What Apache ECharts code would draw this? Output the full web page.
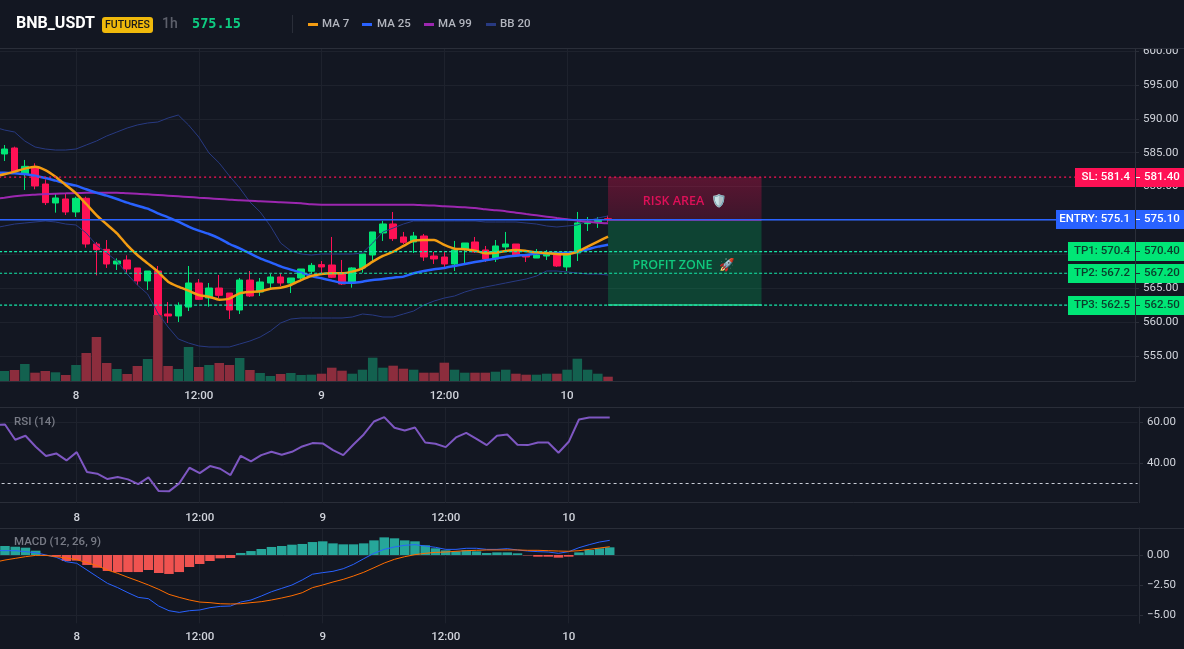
<!DOCTYPE html>
<html>
<head>
<meta charset="utf-8">
<title>BNB_USDT 1h</title>
<script src="https://cdn.jsdelivr.net/npm/echarts@6/dist/echarts.min.js"></script>
<style>
  html, body { margin: 0; padding: 0; background: #131722; }
  #chart { width: 1184px; height: 649px; }
</style>
</head>
<body>
<div id="chart"></div>
<script>
// Hourly candles, oldest first
const opens = [584.82,585.70,581.91,582.94,580.38,577.58,578.17,576.25,578.27,571.52,570.73,568.57,569.16,567.98,566.06,567.53,561.18,560.89,562.21,565.76,563.54,565.02,564.28,561.77,566.20,564.43,565.76,566.65,565.76,566.50,567.49,568.47,568.42,567.09,565.76,567.98,569.90,573.15,574.48,572.56,571.82,572.70,569.75,569.60,568.57,570.78,571.82,570.64,569.31,571.08,571.52,569.90,569.45,569.75,569.90,568.13,570.19,574.53,574.82,575.25];
const closes = [585.55,582.25,582.99,580.09,577.63,578.32,576.25,578.27,571.52,570.68,568.57,569.01,567.83,566.06,567.53,560.98,560.89,562.41,565.76,563.35,565.02,563.94,561.77,566.20,563.84,565.91,566.65,565.76,566.50,567.83,568.37,568.13,566.60,565.61,567.98,570.05,573.30,574.48,572.31,571.77,572.70,569.60,569.31,568.57,570.64,571.67,570.34,569.31,571.23,571.52,569.75,569.60,569.90,570.05,568.27,569.90,574.63,574.82,575.02,575.15];
const lows = [583.78,582.16,579.50,579.60,577.28,576.15,575.80,575.51,570.98,566.89,567.98,567.68,567.09,565.42,564.73,560.05,559.85,560.00,561.62,563.25,562.26,563.54,560.44,561.18,563.69,563.84,565.02,565.32,564.28,566.30,567.09,567.19,566.50,565.47,565.07,567.29,568.86,571.97,571.97,571.52,570.19,569.01,568.57,567.83,567.53,568.57,570.19,568.86,568.86,570.64,569.60,568.86,569.45,569.16,568.13,567.53,569.01,573.44,573.89,574.80];
const highs = [586.14,585.90,583.93,583.44,581.07,579.00,579.00,578.51,578.51,571.82,572.11,569.40,569.85,567.98,567.53,568.27,562.95,562.90,568.27,566.35,565.76,566.94,564.28,566.50,567.53,566.50,567.09,567.19,566.50,567.83,568.72,569.01,572.56,569.16,568.08,570.05,573.30,574.92,576.25,573.30,573.30,573.00,570.34,570.34,571.97,571.67,572.56,571.23,572.11,573.30,571.52,570.05,570.78,570.64,569.90,570.05,576.25,575.51,575.51,575.70];
const volumes = [10,11,17,8.3,10,8.7,6,16,28,44,18,12,7,15,22,66,15,12,34,14,16,18,16,23,11,8,5,7,8,6,6.3,7.3,13.3,10.3,7.3,11.3,23.3,13.3,15.3,12.3,11.3,8.3,8.3,18.3,11.3,8.3,8.3,8.3,9.3,11.3,7.3,6.3,6.3,7.3,7.3,11.3,22.3,11.3,7.3,4.3];

// Indicators carry one extra leading bar so their lines run in from the left edge
const ma7 = [581.47,581.81,582.21,582.65,582.94,582.45,581.47,580.24,579.00,577.43,575.80,574.43,573.10,571.37,569.90,568.66,567.43,565.96,565.22,564.63,563.99,563.74,563.30,563.45,564.23,564.43,564.53,564.92,565.07,565.47,566.20,566.80,567.09,567.19,567.19,567.44,567.93,568.91,569.75,570.39,571.23,572.02,572.11,572.11,571.38,570.83,570.74,570.54,570.14,570.24,570.49,570.64,570.49,570.29,570.14,570.05,570.00,570.39,571.13,571.87,572.61];
const ma25 = [582.06,582.06,581.96,581.86,581.61,581.27,580.88,580.48,580.14,579.60,579.10,578.66,578.17,577.63,577.18,576.74,576.05,575.46,574.82,574.08,573.49,573.00,572.36,571.52,570.88,570.14,569.40,568.81,568.22,567.73,567.29,566.80,566.45,566.11,565.81,565.81,565.96,566.21,566.35,566.55,566.70,567.19,567.53,567.78,567.98,568.27,568.57,568.86,569.11,569.36,569.65,569.80,569.90,570.10,570.19,570.19,570.24,570.39,570.74,571.13,571.42];
const ma99 = [578.20,578.36,578.56,578.71,578.81,578.91,578.96,579.00,579.05,579.10,579.10,579.10,579.10,579.00,578.96,578.86,578.76,578.66,578.56,578.46,578.36,578.27,578.17,578.07,577.97,577.92,577.82,577.77,577.67,577.63,577.53,577.38,577.33,577.33,577.33,577.33,577.33,577.33,577.33,577.33,577.33,577.33,577.23,577.19,577.09,577.04,576.94,576.84,576.64,576.50,576.35,576.15,575.95,575.76,575.56,575.36,575.17,574.97,574.82,574.67,574.58];
const bbUpper = [588.80,588.36,588.06,586.73,585.85,585.55,585.40,585.40,585.55,586.14,586.73,587.47,588.06,588.65,589.10,589.39,589.54,590.13,590.57,589.10,587.32,584.96,583.48,581.56,579.79,577.72,576.25,574.18,571.67,570.49,570.04,569.90,570.04,570.04,570.04,570.04,570.19,571.67,573.29,573.88,574.47,574.92,574.92,574.92,574.92,574.92,574.92,574.92,574.77,574.77,574.77,574.77,574.62,574.47,574.18,574.03,574.18,574.33,574.92,575.36,575.66];
const bbLower = [573.88,574.18,574.47,574.62,574.77,574.92,574.77,574.47,574.33,573.15,571.37,570.19,569.01,567.09,565.46,564.14,561.33,559.26,557.49,556.90,556.46,556.31,556.31,556.31,556.75,557.19,557.78,558.67,559.85,560.44,560.59,560.59,560.59,560.59,560.59,560.74,561.18,561.03,560.74,560.74,561.18,561.62,562.51,563.10,563.54,563.84,564.43,564.87,565.17,565.46,565.76,566.06,566.35,566.79,567.53,567.53,567.39,567.24,567.09,567.09,566.94];
const rsi = [58.50,58.81,51.30,53.26,47.86,43.29,44.60,41.16,45.25,35.45,34.63,32.01,32.99,31.85,29.56,32.83,26.13,25.97,29.89,37.57,34.96,38.39,37.08,33.97,43.45,40.67,43.78,45.41,43.94,45.41,48.03,49.66,49.50,46.23,43.78,49.01,53.91,60.28,62.41,57.18,55.87,57.34,49.99,49.33,47.70,52.44,54.73,51.79,48.68,53.26,53.91,48.84,48.68,49.99,49.99,44.92,50.31,61.26,62.24,62.24,62.24];
const macdLine = [0.38,0.36,0.36,0.28,0.19,0,-0.19,-0.56,-0.69,-1.25,-1.81,-2.36,-2.72,-3.14,-3.53,-3.64,-4.25,-4.64,-4.78,-4.64,-4.58,-4.39,-4.28,-4.25,-3.92,-3.75,-3.42,-3.06,-2.78,-2.50,-2.08,-1.60,-1.47,-1.36,-1.14,-0.78,-0.31,0.14,0.47,0.67,0.81,0.86,0.75,0.64,0.47,0.47,0.56,0.56,0.47,0.47,0.53,0.42,0.33,0.28,0.25,0.14,0.28,0.61,0.86,1.08,1.22];
const signalLine = [-0.60,-0.42,-0.28,-0.14,-0.03,-0.03,-0.14,-0.25,-0.39,-0.64,-0.89,-1.25,-1.53,-1.86,-2.17,-2.50,-2.86,-3.28,-3.53,-3.75,-3.92,-3.97,-4.06,-4.08,-4.06,-3.97,-3.89,-3.75,-3.58,-3.39,-3.14,-2.72,-2.50,-2.25,-2.03,-1.75,-1.44,-1.06,-0.67,-0.36,-0.14,0.03,0.14,0.22,0.25,0.31,0.36,0.39,0.42,0.42,0.42,0.42,0.39,0.39,0.36,0.33,0.31,0.36,0.47,0.58,0.69];
const macdHist = [0.75,0.69,0.61,0.36,-0.05,-0.14,-0.50,-0.47,-0.83,-1.06,-1.33,-1.42,-1.42,-1.42,-1.25,-1.50,-1.58,-1.42,-1.00,-0.75,-0.50,-0.28,-0.25,0.17,0.33,0.50,0.67,0.75,0.86,0.92,1.08,1.14,0.97,0.89,0.89,0.97,1.22,1.47,1.39,1.22,1.14,0.81,0.56,0.39,0.31,0.39,0.31,0.17,0.22,0.22,0.14,-0.03,-0.14,-0.14,-0.22,-0.14,0.22,0.42,0.56,0.64];

// Axis labels
const priceTicks = [555,560,565,570,575,580,585,590,595,600];
const rsiTicks = [40,60];
const macdTicks = [-5,-2.5,0];
const timeTickBars = [8,20,32,44,56];
const timeTickNames = ['8','12:00','9','12:00','10'];

// Trade levels
const levelTitles = ['SL: 581.4','ENTRY: 575.1','TP1: 570.4','TP2: 567.2','TP3: 562.5'];
const levelPrices = [581.4,575.1,570.4,567.2,562.5];
const legendNames = ['MA 7','MA 25','MA 99','BB 20'];

const BG = '#131722', GRID = '#1e222d', BORDER = '#2a2e39', AXIS_TEXT = '#d1d4dc';
const UP = '#00e676', DOWN = '#ff1155', ENTRY = '#2962ff', TP_LINE = '#14e8a8';
const LEVEL_COLOR = [DOWN, ENTRY, UP, UP, UP];
const LEVEL_LINE = [DOWN, ENTRY, TP_LINE, TP_LINE, TP_LINE];
const LEVEL_DASH = [[2, 3], 'solid', [3, 2], [3, 2], [3, 2]];
const LEVEL_WIDTH = [1.2, 1.5, 1.2, 1.2, 1.2];
const LEVEL_TEXT = ['#ffffff', '#ffffff', '#0b3d2c', '#0b3d2c', '#0b3d2c'];
const TAG_WIDTH = [60, 79, 67, 67, 67];
const FONT = 'Roboto, "Noto Sans", sans-serif';
const BAND_COUNT = 112;
const ZONE_FROM = 60, ZONE_TO = 75;

const categories = Array.from({length: BAND_COUNT}, (_, i) => 'bar' + i);
const candleData = [['-','-','-','-']].concat(opens.map((o, i) => [o, closes[i], lows[i], highs[i]]));
const volumeData = ['-'].concat(volumes.map((v, i) => ({
  value: v,
  itemStyle: { color: closes[i] >= opens[i] ? '#13614f' : '#8c2d3d' }
})));
const histData = ['-'].concat(macdHist.map(v => ({
  value: v,
  itemStyle: { color: v >= 0 ? '#26a69a' : '#ef5350' }
})));

const chart = echarts.init(document.getElementById('chart'), null, { renderer: 'canvas' });

function timeAxis(gridIndex, showLabels, margin) {
  return {
    type: 'category', gridIndex, data: categories, boundaryGap: true,
    axisLine: { show: true, lineStyle: { color: BORDER } },
    axisTick: { show: false },
    splitLine: { show: false },
    axisLabel: {
      show: showLabels, color: AXIS_TEXT, fontFamily: FONT, fontSize: 11.5, fontWeight: 500, margin,
      interval: index => timeTickBars.includes(index),
      formatter: (value, index) => {
        const at = timeTickBars.indexOf(index);
        return at >= 0 ? timeTickNames[at] : '';
      }
    }
  };
}

function valueAxis(gridIndex, min, max, ticks, offset, digits) {
  return {
    type: 'value', gridIndex, position: 'right', min, max, offset, scale: true,
    axisLine: { show: true, onZero: false, lineStyle: { color: BORDER } },
    axisTick: { show: true, length: 4, customValues: ticks, lineStyle: { color: BORDER } },
    splitLine: { show: true, lineStyle: { color: GRID } },
    axisLabel: {
      color: AXIS_TEXT, fontFamily: FONT, fontSize: 11.5, margin: 8, customValues: ticks,
      padding: [2, 0, 0, 0],
      formatter: v => v.toFixed(digits).replace('-', '\u2212')
    }
  };
}

function timeGridLines() {
  return {
    silent: true, symbol: 'none', z: 1, animation: false,
    label: { show: false },
    lineStyle: { color: GRID, type: 'solid', width: 1 },
    data: timeTickBars.map(b => ({ xAxis: b }))
  };
}

function overlayLine(name, data, color, width, z, extra) {
  return Object.assign({
    name, type: 'line', xAxisIndex: 0, yAxisIndex: 0, data, z,
    showSymbol: false, symbol: 'none', animation: false, silent: true,
    lineStyle: { color, width }
  }, extra || {});
}

function zoneBorder(price, color) {
  return [
    { coord: [ZONE_FROM, price], lineStyle: { color, width: 1.5, type: 'solid', opacity: 1 } },
    { coord: [ZONE_TO, price] }
  ];
}

// Each trade level is a flat line across every bar, including the empty right-hand ones
function levelLine(i) {
  return overlayLine('Level ' + levelTitles[i], categories.map(() => levelPrices[i]), LEVEL_LINE[i], 1, 8, {
    lineStyle: { color: LEVEL_LINE[i], width: LEVEL_WIDTH[i], type: LEVEL_DASH[i] }
  });
}

function renderLevelTag(params, api) {
  const i = params.dataIndex;
  const y = api.coord([0, api.value(1)])[1];
  const right = params.coordSys.x + params.coordSys.width;
  const h = 19, top = Math.round(y - h / 2);
  const text = (value, x, align) => ({
    type: 'text',
    style: {
      text: value, x, y: top + h / 2, align, verticalAlign: 'middle',
      fill: LEVEL_TEXT[i], font: '500 11.5px ' + FONT
    }
  });
  return {
    type: 'group',
    children: [
      { type: 'rect', shape: { x: right - TAG_WIDTH[i], y: top, width: TAG_WIDTH[i], height: h }, style: { fill: LEVEL_COLOR[i] } },
      { type: 'rect', shape: { x: right + 1, y: top, width: 1184 - right - 1, height: h }, style: { fill: LEVEL_COLOR[i] } },
      { type: 'line', shape: { x1: right + 1, y1: top + h / 2, x2: right + 5, y2: top + h / 2 }, style: { stroke: LEVEL_TEXT[i], lineWidth: 1 } },
      text(levelTitles[i], right - 5, 'right'),
      text(api.value(1).toFixed(2), right + 9, 'left')
    ]
  };
}

const headerText = (text, x, fill, font) => ({
  type: 'text', z: 102, silent: true,
  style: { text, x, y: 24, fill, font, verticalAlign: 'middle' }
});
const legendColors = ['#f39c12', '#2962ff', '#9c27b0', '#283a82'];
const legendSwatchX = [308, 362, 424, 486];
const legendTextX = [322, 377, 438, 500];
const paneRule = y => ({
  type: 'line', z: 101, silent: true,
  shape: { x1: 0, y1: y + 0.5, x2: 1184, y2: y + 0.5 },
  style: { stroke: BORDER, lineWidth: 1 }
});

const option = {
  backgroundColor: BG,
  animation: false,
  textStyle: { fontFamily: FONT },
  grid: [
    { left: -11, top: 48, width: 1146, height: 333, outerBoundsMode: 'none' },
    { left: -11, top: 281, width: 1146, height: 100, outerBoundsMode: 'none' },
    { left: -10.4, top: 407, width: 1148, height: 95.7, outerBoundsMode: 'none' },
    { left: -10.4, top: 528, width: 1148, height: 95.3, outerBoundsMode: 'none' }
  ],
  xAxis: [
    timeAxis(0, true, 9),
    Object.assign(timeAxis(1, false, 9), { axisLine: { show: false } }),
    timeAxis(2, true, 9),
    timeAxis(3, true, 8)
  ],
  yAxis: [
    valueAxis(0, 551.285, 600.47, priceTicks, 0, 2),
    { type: 'value', gridIndex: 1, min: 0, max: 100, show: false },
    valueAxis(2, 20.4, 67.4, rsiTicks, 1.4, 2),
    valueAxis(3, -5.69, 2.25, macdTicks, 1.4, 2)
  ],
  series: [
    {
      name: 'Candles', type: 'candlestick', xAxisIndex: 0, yAxisIndex: 0, data: candleData,
      barWidth: 7, z: 3, silent: true, animation: false,
      itemStyle: { color: UP, color0: DOWN, borderColor: UP, borderColor0: DOWN, borderWidth: 1 },
      markLine: timeGridLines()
    },
    {
      name: 'Volume', type: 'bar', xAxisIndex: 1, yAxisIndex: 1, data: volumeData,
      barWidth: 9.5, z: 4, silent: true, animation: false
    },
    overlayLine('BB upper', bbUpper, legendColors[3], 1, 5),
    overlayLine('BB lower', bbLower, legendColors[3], 1, 5),
    overlayLine('MA 99', ma99, legendColors[2], 2, 6, { smooth: 0.2 }),
    overlayLine('MA 25', ma25, legendColors[1], 2.5, 6, { smooth: 0.2 }),
    overlayLine('MA 7', ma7, legendColors[0], 2.5, 7, { smooth: 0.2 })
  ].concat(levelPrices.map((p, i) => levelLine(i))).concat([
    {
      name: 'Zones', type: 'line', xAxisIndex: 0, yAxisIndex: 0, data: [], z: 8, silent: true, animation: false,
      markLine: {
        silent: true, symbol: 'none', z: 8, animation: false,
        label: { show: false },
        data: [
          zoneBorder(levelPrices[1], '#d81b60'),
          zoneBorder(levelPrices[4], '#2fcf8f')
        ]
      },
      markArea: {
        silent: true, z: 8, animation: false,
        data: [
          [
            {
              coord: [ZONE_FROM, levelPrices[0]],
              itemStyle: {
                color: new echarts.graphic.LinearGradient(0, 0, 0, 1, [
                  { offset: 0, color: 'rgba(255,17,85,0.30)' },
                  { offset: 1, color: 'rgba(255,17,85,0.18)' }
                ])
              },
              label: {
                show: true, position: 'inside', offset: [0, 3], formatter: 'RISK AREA  \u{1F6E1}\uFE0F',
                color: '#de1058', fontFamily: '"Open Sans", sans-serif', fontWeight: 600, fontSize: 12.5
              }
            },
            { coord: [ZONE_TO, levelPrices[1]] }
          ],
          [
            {
              coord: [ZONE_FROM, levelPrices[1]],
              itemStyle: { color: 'rgba(0,230,118,0.21)' },
              label: {
                show: true, position: 'inside', offset: [-1, 3], formatter: 'PROFIT ZONE  \u{1F680}',
                color: '#10c97d', fontFamily: '"Open Sans", sans-serif', fontWeight: 600, fontSize: 12.5
              }
            },
            { coord: [ZONE_TO, levelPrices[4]] }
          ]
        ]
      }
    },
    {
      name: 'Level tags', type: 'custom', xAxisIndex: 0, yAxisIndex: 0, z: 20, silent: true, animation: false,
      clip: false, renderItem: renderLevelTag, encode: { x: 0, y: 1 },
      data: levelPrices.map((p, i) => [i, p])
    },
    {
      name: 'RSI', type: 'line', xAxisIndex: 2, yAxisIndex: 2, data: rsi, z: 5,
      showSymbol: false, symbol: 'none', silent: true, animation: false,
      lineStyle: { color: '#7e57c2', width: 2 },
      markLine: {
        silent: true, symbol: 'none', z: 4, animation: false, label: { show: false },
        data: [
          { yAxis: 30, lineStyle: { color: '#c8ccd6', type: [3, 3], width: 1 } }
        ].concat(timeTickBars.map(b => ({ xAxis: b, lineStyle: { color: GRID, type: 'solid', width: 1 } })))
      }
    },
    {
      name: 'MACD histogram', type: 'bar', xAxisIndex: 3, yAxisIndex: 3, data: histData, barWidth: 9.5, z: 3,
      silent: true, animation: false, markLine: timeGridLines()
    },
    {
      name: 'MACD', type: 'line', xAxisIndex: 3, yAxisIndex: 3, data: macdLine, z: 5,
      showSymbol: false, symbol: 'none', silent: true, animation: false,
      lineStyle: { color: '#2962ff', width: 1 }
    },
    {
      name: 'Signal', type: 'line', xAxisIndex: 3, yAxisIndex: 3, data: signalLine, z: 5,
      showSymbol: false, symbol: 'none', silent: true, animation: false,
      lineStyle: { color: '#ff6d00', width: 1 }
    }
  ]),
  graphic: [
    // Header strip also trims the price label that sits on the pane's top edge
    { type: 'rect', z: 100, silent: true, shape: { x: 0, y: 0, width: 1184, height: 48 }, style: { fill: BG } },
    paneRule(48), paneRule(407), paneRule(528),
    headerText('BNB_USDT', 16, '#ffffff', '700 16px ' + FONT),
    { type: 'rect', z: 102, silent: true, shape: { x: 102, y: 17, width: 51, height: 16, r: 3 }, style: { fill: '#f0b90b' } },
    {
      type: 'text', z: 103, silent: true,
      style: { text: 'FUTURES', x: 127.5, y: 25, fill: '#1a1a1a', font: '500 10.5px ' + FONT, align: 'center', verticalAlign: 'middle' }
    },
    headerText('1h', 162, '#5d606b', '500 14px ' + FONT),
    headerText('575.15', 192, '#0ecb81', '700 13.5px "DejaVu Sans Mono", monospace'),
    { type: 'line', z: 102, silent: true, shape: { x1: 292.5, y1: 15, x2: 292.5, y2: 33 }, style: { stroke: BORDER, lineWidth: 1 } }
  ].concat(legendNames.flatMap((name, i) => [
    { type: 'rect', z: 102, silent: true, shape: { x: legendSwatchX[i], y: 23, width: 10, height: 3 }, style: { fill: legendColors[i] } },
    headerText(name, legendTextX[i], '#b2b5be', '500 11.5px ' + FONT)
  ])).concat([
    { type: 'text', z: 102, silent: true, style: { text: 'RSI (14)', x: 14, y: 422, fill: '#787b86', font: '500 11.5px ' + FONT, verticalAlign: 'middle' } },
    { type: 'text', z: 102, silent: true, style: { text: 'MACD (12, 26, 9)', x: 14, y: 542, fill: '#787b86', font: '500 11.5px ' + FONT, verticalAlign: 'middle' } }
  ])
};

chart.setOption(option);
</script>
</body>
</html>
